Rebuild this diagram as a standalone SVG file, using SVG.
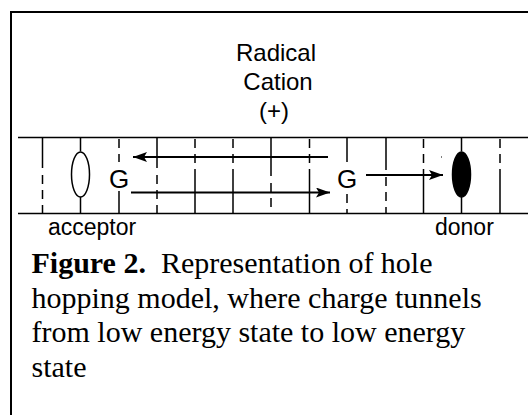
<svg xmlns="http://www.w3.org/2000/svg" width="528" height="415" viewBox="0 0 528 415">
<style>
.frame{stroke:#000;stroke-width:2;fill:none}
.rail{stroke:#000;stroke-width:1.6;fill:none}
.v{stroke:#000;stroke-width:1.5;fill:none}
.d{stroke:#000;stroke-width:1.5;fill:none;stroke-dasharray:9 6}
.arr{stroke:#000;stroke-width:2;fill:none}
.lab{font-family:"Liberation Sans",Arial,sans-serif;font-size:24px;fill:#000}
.g{font-family:"Liberation Sans",Arial,sans-serif;font-size:26px;fill:#000;text-anchor:middle}
.cap{font-family:"Liberation Serif","Times New Roman",serif;font-size:30px;fill:#000}
</style>
<defs>
<marker id="ah" markerUnits="userSpaceOnUse" markerWidth="16" markerHeight="12" refX="14" refY="5" orient="auto">
<path d="M0,0 L14,5 L0,10 L3,5 Z" fill="#000"/>
</marker>
</defs>
<rect width="528" height="415" fill="#fff"/>
<path class="frame" d="M11,415 V12 H528"/>
<g id="title">
<text class="lab" x="276" y="61" text-anchor="middle">Radical</text>
<text class="lab" x="278" y="90" text-anchor="middle">Cation</text>
<text class="lab" x="274" y="119" text-anchor="middle">(+)</text>
</g>
<g id="duplex">
<line class="rail" x1="18" y1="137.5" x2="528" y2="137.5"/>
<line class="rail" x1="18" y1="213.5" x2="528" y2="213.5"/>
<!-- solid top, dashed bottom -->
<path class="v" d="M42.5,138 V168 M157,138 V168 M271,138 V176 M386,138 V170"/>
<path class="d" d="M42.5,175 V213 M157,175 V213 M271,183 V213 M386,177 V213"/>
<!-- dashed top, solid bottom -->
<path class="d" d="M195,139 V177 M233,139 V177 M309.5,139 V177 M423.5,139 V170 M500,139 V177"/>
<path class="v" d="M195,177 V213 M233,177 V213 M309.5,177 V213 M423.5,170 V213 M500,177 V213"/>
<!-- G columns -->
<path class="d" d="M119,139 V162"/>
<path class="v" d="M119,191 V213"/>
<path class="v" d="M347,138 V162"/>
<path class="d" d="M347,194 V213"/>
<!-- ellipse columns -->
<path class="v" d="M80.5,138 V151.5 M80.5,197 V213 M461.5,138 V151.5 M461.5,197 V213"/>
<rect x="441" y="156.5" width="1" height="1" fill="#000"/>
</g>
<g id="acceptor">
<ellipse cx="80.5" cy="174.5" rx="9" ry="22.5" fill="#fff" stroke="#000" stroke-width="1.5"/>
<text class="lab" x="48" y="235" style="font-size:23px">acceptor</text>
</g>
<g id="donor">
<ellipse cx="461.5" cy="174.5" rx="9" ry="22.5" fill="#000" stroke="#000" stroke-width="1.5"/>
<text class="lab" x="435" y="235" style="font-size:23px">donor</text>
</g>
<g id="G1"><text class="g" x="119" y="188">G</text></g>
<g id="G2"><text class="g" x="347" y="188">G</text></g>
<g id="connectors">
<line class="arr" x1="328" y1="157" x2="133" y2="157" marker-end="url(#ah)"/>
<line class="arr" x1="131" y1="192.5" x2="330" y2="192.5" marker-end="url(#ah)"/>
<line class="arr" x1="366" y1="175" x2="443" y2="175" marker-end="url(#ah)"/>
</g>
<g id="caption">
<text class="cap" x="31.5" y="273"><tspan font-weight="bold">Figure 2.</tspan><tspan dx="7.5"> Representation of hole</tspan></text>
<text class="cap" x="31.5" y="307.5">hopping model, where charge tunnels</text>
<text class="cap" x="31.5" y="342">from low energy state to low energy</text>
<text class="cap" x="31.5" y="376.5">state</text>
</g>
</svg>
